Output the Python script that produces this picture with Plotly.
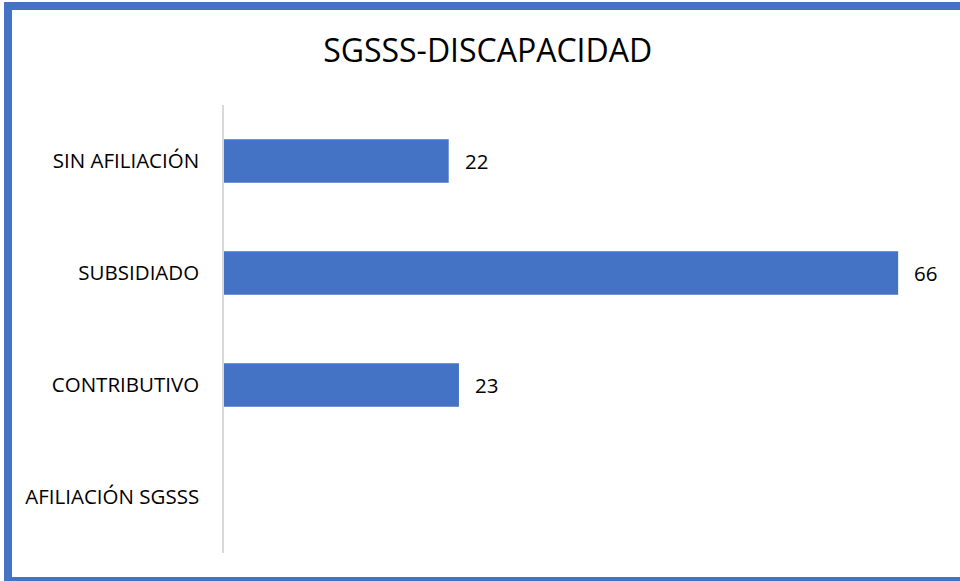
import plotly.graph_objects as go

categories = ["AFILIACIÓN SGSSS", "CONTRIBUTIVO", "SUBSIDIADO", "SIN AFILIACIÓN"]
values = [None, 23, 66, 22]
value_labels = ["", "23", "66", "22"]

W, H = 960, 581
L, R, T, B = 224, 21, 105, 28
pw, ph = W - L - R, H - T - B

def px_x(x):
    return (x - L) / pw

def px_y(y):
    return (H - B - y) / ph

fig = go.Figure(go.Bar(
    y=categories, x=values, orientation="h",
    marker=dict(color="#4472C4", line=dict(width=0)),
    width=0.39,
    cliponaxis=False,
    hoverinfo="skip",
))

annotations = [
    dict(x=v, y=c, xref="x", yref="y", text=t, showarrow=False, xanchor="left", yanchor="middle",
         xshift=14, font=dict(size=20.5, color="#000000", family="Open Sans"))
    for c, v, t in zip(categories, values, value_labels) if v is not None
]

blue = "#4472C4"
shapes = [
    dict(type="rect", xref="paper", yref="paper", x0=px_x(4), x1=px_x(12), y0=px_y(581), y1=px_y(2),
         fillcolor=blue, line=dict(width=0), layer="above"),
    dict(type="rect", xref="paper", yref="paper", x0=px_x(4), x1=px_x(960), y0=px_y(10), y1=px_y(2),
         fillcolor=blue, line=dict(width=0), layer="above"),
    dict(type="rect", xref="paper", yref="paper", x0=px_x(4), x1=px_x(960), y0=px_y(581), y1=px_y(577),
         fillcolor=blue, line=dict(width=0), layer="above"),
]

fig.update_layout(
    width=W, height=H,
    margin=dict(l=L, r=R, t=T, b=B, pad=0),
    paper_bgcolor="white", plot_bgcolor="white",
    title=dict(text="SGSSS-DISCAPACIDAD", x=0.508, xanchor="center", y=1 - 51 / H, yanchor="middle",
               font=dict(size=32, color="#000000", family="Open Sans")),
    xaxis=dict(range=[0, 70], visible=False, showgrid=False, zeroline=False, fixedrange=True),
    yaxis=dict(showline=True, linecolor="#d9d9d9", linewidth=1.5, ticks="", showgrid=False,
               tickfont=dict(size=20.5, color="#000000", family="Open Sans"), ticklabelstandoff=19,
               range=[-0.5, 3.5], fixedrange=True),
    shapes=shapes,
    annotations=annotations,
    showlegend=False,
)

fig.write_html("out.html", config={"displayModeBar": False},
               post_script="document.body.style.margin='0';document.body.style.overflow='hidden';")
